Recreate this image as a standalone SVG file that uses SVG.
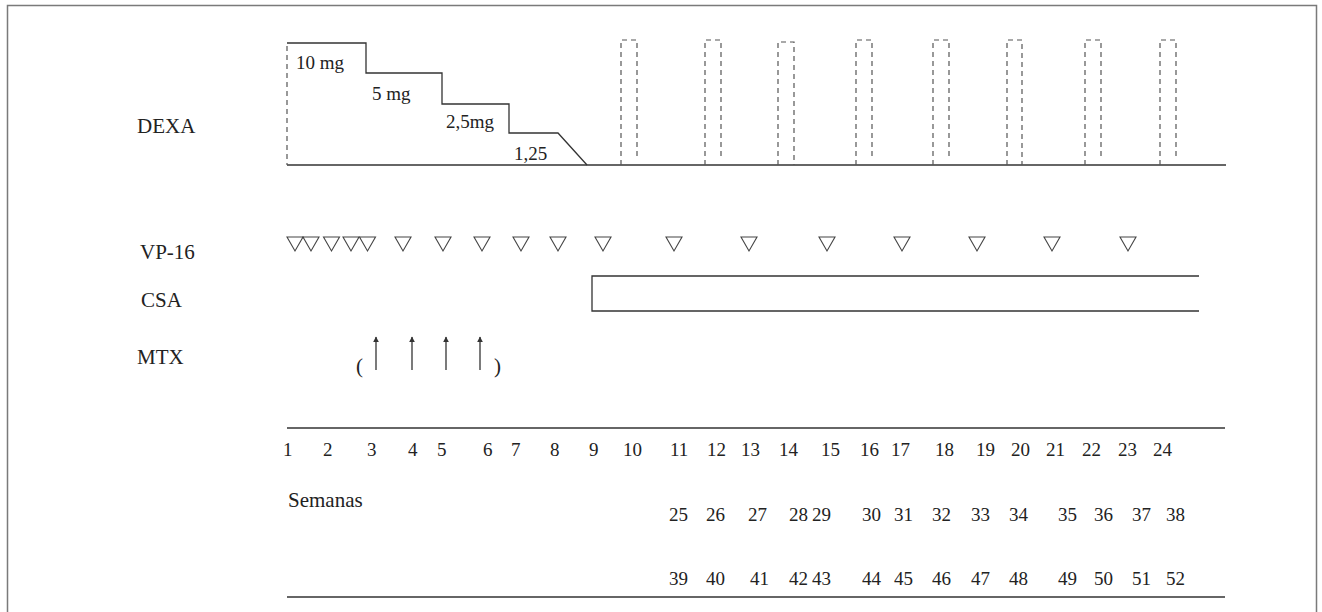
<svg xmlns="http://www.w3.org/2000/svg" width="1322" height="612" viewBox="0 0 1322 612">
  <defs>
    <style>
      .frame { fill: none; stroke: #7a7a7a; stroke-width: 1.5; }
      .solid { fill: none; stroke: #333; stroke-width: 1.3; }
      .dash { fill: none; stroke: #555; stroke-width: 1.2; stroke-dasharray: 5 4; }
      .tri { fill: none; stroke: #444; stroke-width: 1.1; stroke-linejoin: miter; }
      .lbl { font-family: "Liberation Serif", "Times New Roman", serif; font-size: 21px; fill: #222; }
      .txt { font-family: "Liberation Serif", "Times New Roman", serif; font-size: 19px; fill: #222; }
      .arrow { stroke: #333; stroke-width: 1.3; marker-end: url(#head); }
    </style>
    <marker id="head" viewBox="0 0 10 10" refX="9" refY="5" markerWidth="6" markerHeight="6" markerUnits="userSpaceOnUse" orient="auto">
      <path d="M0,0 L10,5 L0,10 z" fill="#333"/>
    </marker>
    <path id="tri" class="tri" d="M-8,0 H8 L0,14 Z"/>
  </defs>

  <rect width="1322" height="612" fill="#fff"/>
  <path class="frame" d="M7.5,612 V5.5 H1316.5 V612"/>

  <!-- row labels -->
  <g id="labels">
    <text class="lbl" x="137" y="133">DEXA</text>
    <text class="lbl" x="140" y="259">VP-16</text>
    <text class="lbl" x="141" y="307">CSA</text>
    <text class="lbl" x="137" y="364">MTX</text>
  </g>

  <!-- dexamethasone taper and pulses -->
  <g id="dexa">
    <line class="solid" x1="287" y1="165" x2="1226" y2="165"/>
    <line class="dash" x1="287" y1="46" x2="287" y2="165"/>
    <polyline class="solid" points="287,43 366,43 366,73 442,73 442,104 509,104 509,133 558,133 587,165"/>
    <text class="txt" x="296" y="69">10 mg</text>
    <text class="txt" x="372" y="100">5 mg</text>
    <text class="txt" x="446" y="128">2,5mg</text>
    <text class="txt" x="514" y="160">1,25</text>
    <g id="pulses">
      <path class="dash" d="M621,165 V40 H637 V160"/>
      <path class="dash" d="M705,165 V40 H721 V160"/>
      <path class="dash" d="M778,165 V42 H794 V165"/>
      <path class="dash" d="M856,165 V40 H872 V160"/>
      <path class="dash" d="M933,165 V40 H949 V160"/>
      <path class="dash" d="M1007,165 V40 H1022 V165"/>
      <path class="dash" d="M1085,165 V40 H1101 V160"/>
      <path class="dash" d="M1160,165 V40 H1176 V160"/>
    </g>
  </g>

  <!-- etoposide doses -->
  <g id="vp16">
    <use href="#tri" x="295" y="237"/>
    <use href="#tri" x="311" y="237"/>
    <use href="#tri" x="331.5" y="237"/>
    <use href="#tri" x="351" y="237"/>
    <use href="#tri" x="367.5" y="237"/>
    <use href="#tri" x="403" y="237"/>
    <use href="#tri" x="443" y="237"/>
    <use href="#tri" x="482" y="237"/>
    <use href="#tri" x="521" y="237"/>
    <use href="#tri" x="558" y="237"/>
    <use href="#tri" x="603" y="237"/>
    <use href="#tri" x="674" y="237"/>
    <use href="#tri" x="749" y="237"/>
    <use href="#tri" x="827" y="237"/>
    <use href="#tri" x="902" y="237"/>
    <use href="#tri" x="977" y="237"/>
    <use href="#tri" x="1052" y="237"/>
    <use href="#tri" x="1128" y="237"/>
  </g>

  <!-- cyclosporin bar -->
  <g id="csa">
    <path class="solid" d="M1199,276 H592 V311 H1199"/>
  </g>

  <!-- intrathecal methotrexate -->
  <g id="mtx">
    <text class="lbl" x="356" y="373" font-size="26">(</text>
    <line class="arrow" x1="376" y1="370" x2="376" y2="337"/>
    <line class="arrow" x1="412" y1="370" x2="412" y2="337"/>
    <line class="arrow" x1="446" y1="370" x2="446" y2="337"/>
    <line class="arrow" x1="480" y1="370" x2="480" y2="337"/>
    <text class="lbl" x="494" y="373" font-size="26">)</text>
  </g>

  <!-- week axis -->
  <g id="weeks">
    <line class="solid" x1="287" y1="428" x2="1225" y2="428"/>
    <line class="solid" x1="287" y1="597" x2="1225" y2="597"/>
    <g class="txt">
      <text x="283" y="456">1</text>
      <text x="323" y="456">2</text>
      <text x="367" y="456">3</text>
      <text x="408" y="456">4</text>
      <text x="437" y="456">5</text>
      <text x="483" y="456">6</text>
      <text x="511" y="456">7</text>
      <text x="550" y="456">8</text>
      <text x="589" y="456">9</text>
      <text x="623" y="456">10</text>
      <text x="670" y="456">11</text>
      <text x="707" y="456">12</text>
      <text x="741" y="456">13</text>
      <text x="779" y="456">14</text>
      <text x="821" y="456">15</text>
      <text x="860" y="456">16</text>
      <text x="891" y="456">17</text>
      <text x="935" y="456">18</text>
      <text x="976" y="456">19</text>
      <text x="1011" y="456">20</text>
      <text x="1046" y="456">21</text>
      <text x="1082" y="456">22</text>
      <text x="1118" y="456">23</text>
      <text x="1153" y="456">24</text>

      <text x="288" y="507" font-size="21">Semanas</text>

      <text x="669" y="521">25</text>
      <text x="706" y="521">26</text>
      <text x="748" y="521">27</text>
      <text x="789" y="521">28</text>
      <text x="812" y="521">29</text>
      <text x="862" y="521">30</text>
      <text x="894" y="521">31</text>
      <text x="932" y="521">32</text>
      <text x="971" y="521">33</text>
      <text x="1009" y="521">34</text>
      <text x="1058" y="521">35</text>
      <text x="1094" y="521">36</text>
      <text x="1132" y="521">37</text>
      <text x="1166" y="521">38</text>

      <text x="669" y="585">39</text>
      <text x="706" y="585">40</text>
      <text x="750" y="585">41</text>
      <text x="789" y="585">42</text>
      <text x="812" y="585">43</text>
      <text x="862" y="585">44</text>
      <text x="894" y="585">45</text>
      <text x="932" y="585">46</text>
      <text x="971" y="585">47</text>
      <text x="1009" y="585">48</text>
      <text x="1058" y="585">49</text>
      <text x="1094" y="585">50</text>
      <text x="1132" y="585">51</text>
      <text x="1166" y="585">52</text>
    </g>
  </g>
</svg>
